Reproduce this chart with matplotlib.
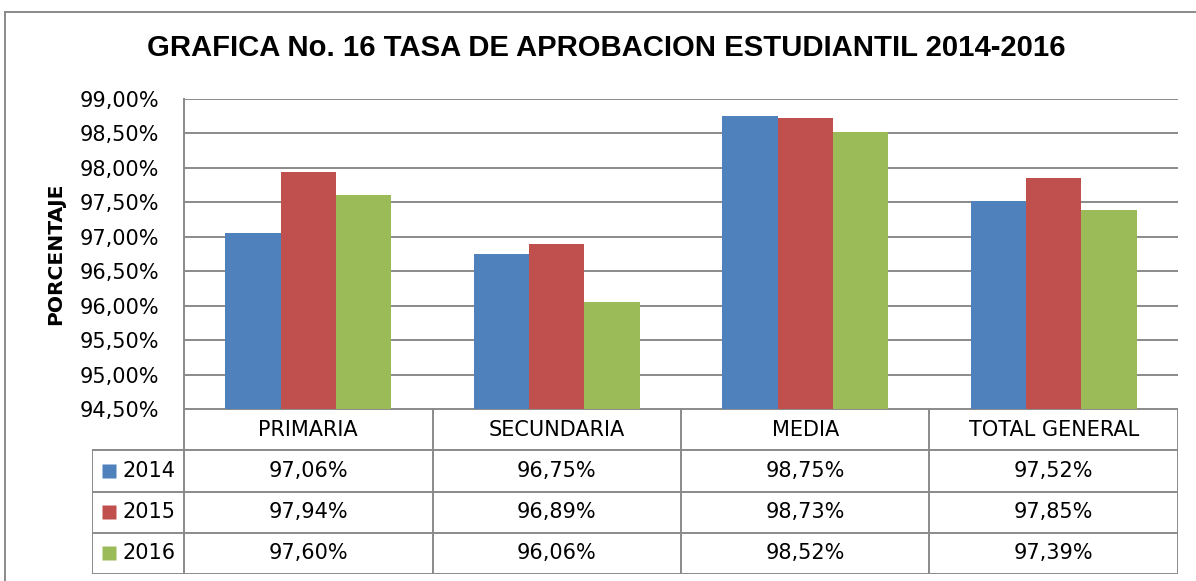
import numpy as np
import matplotlib.pyplot as plt
from matplotlib.lines import Line2D

categories = ['PRIMARIA', 'SECUNDARIA', 'MEDIA', 'TOTAL GENERAL']
years = ['2014', '2015', '2016']
values_2014 = [97.06, 96.75, 98.75, 97.52]
values_2015 = [97.94, 96.89, 98.73, 97.85]
values_2016 = [97.60, 96.06, 98.52, 97.39]
colors = ['#4F81BD', '#C0504D', '#9BBB59']

series = [values_2014, values_2015, values_2016]
title = 'GRAFICA No. 16 TASA DE APROBACION ESTUDIANTIL 2014-2016'
grid_col = '#8A8A8A'
W, H = 1196, 581
fs = 15


def fx(px):
    return px / W


def fy(py):
    return 1 - py / H


def pct(v):
    return f'{v:.2f}%'.replace('.', ',')


fig = plt.figure(figsize=(W / 100, H / 100), dpi=100)
fig.patch.set_facecolor('white')

# chart border (runs off the right and bottom of the picture)
fig.add_artist(Line2D([fx(5), fx(5)], [fy(12), 0], color=grid_col, lw=1.4))
fig.add_artist(Line2D([fx(5), 1], [fy(12), fy(12)], color=grid_col, lw=1.4))

fig.text(fx(606), fy(48), title, ha='center', va='center', fontsize=21.1,
         fontweight='bold', family='Liberation Sans')

# bar plot
ax = fig.add_axes([fx(184), fy(409), fx(1178 - 184), (409 - 99) / H])
x = np.arange(len(categories))
w = 1 / 4.5
for i, (vals, c) in enumerate(zip(series, colors)):
    ax.bar(x + (i - 1) * w, vals, width=w, color=c, edgecolor='none', zorder=3)

ax.set_xlim(-0.5, len(categories) - 0.5)
ax.set_ylim(94.5, 99.0)
ticks = np.arange(94.5, 99.01, 0.5)
ax.set_yticks(ticks)
ax.set_yticklabels([pct(t) for t in ticks], fontsize=fs, family='DejaVu Sans')
ax.tick_params(axis='y', length=0, pad=18)
ax.set_xticks([])
ax.grid(axis='y', color=grid_col, lw=1.4, zorder=0)
for s in ['top', 'right', 'bottom']:
    ax.spines[s].set_visible(False)
ax.spines['left'].set_color(grid_col)
ax.spines['left'].set_linewidth(1.4)
ax.set_ylabel('PORCENTAJE', fontsize=14.6, fontweight='bold', family='DejaVu Sans', labelpad=10)

# data table below the plot
lab_w = (184 - 92) / 248.5
tax = fig.add_axes([fx(92), fy(574), fx(1178 - 92), (574 - 409) / H])
tax.set_xlim(-0.5 - lab_w, len(categories) - 0.5)
tax.set_ylim(len(years) + 1, 0)
tax.axis('off')
left = -0.5 - lab_w
right = len(categories) - 0.5
nrow = len(years) + 1
lk = dict(color=grid_col, lw=1.4, solid_capstyle='butt')
tax.plot([-0.5, right], [0, 0], **lk)
for r in range(1, nrow + 1):
    tax.plot([left, right], [r, r], **lk)
tax.plot([left, left], [1, nrow], **lk)
for k in range(len(categories) + 1):
    tax.plot([k - 0.5, k - 0.5], [0, nrow], **lk)

for k, cat in enumerate(categories):
    tax.text(k, 0.5, cat, ha='center', va='center', fontsize=fs, family='DejaVu Sans')
for r, (yr, vals, c) in enumerate(zip(years, series, colors)):
    yy = r + 1.5
    tax.plot([left + 0.068], [yy], marker='s', ms=10.5, color=c, mec='none')
    tax.text(left + 0.124, yy, yr, ha='left', va='center', fontsize=fs, family='DejaVu Sans')
    for k, v in enumerate(vals):
        tax.text(k, yy, pct(v), ha='center', va='center', fontsize=fs, family='DejaVu Sans')

fig.savefig('out.png', dpi=100, facecolor='white')
